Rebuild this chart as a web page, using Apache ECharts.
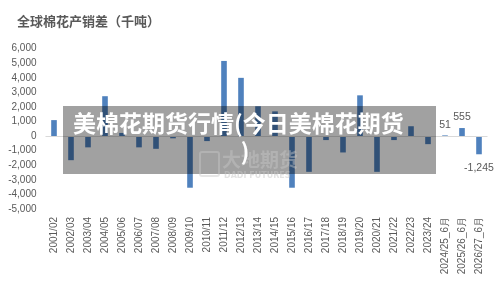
<!DOCTYPE html>
<html>
<head>
<meta charset="utf-8">
<script src="https://cdn.jsdelivr.net/npm/echarts@6/dist/echarts.min.js"></script>
<style>html,body{margin:0;padding:0;background:#fff}#c{width:500px;height:282px}</style>
</head>
<body>
<div id="c"></div>
<script>
var titleText = '全球棉花产销差（千吨）';
var categories = ['2001/02','2002/03','2003/04','2004/05','2005/06','2006/07','2007/08','2008/09','2009/10','2010/11','2011/12','2012/13','2013/14','2014/15','2015/16','2016/17','2017/18','2018/19','2019/20','2020/21','2021/22','2022/23','2023/24','2024/25_6月','2025/26_6月','2026/27_6月'];
var values = [1100,-1650,-770,2740,220,-770,-870,-150,-3540,-340,5160,4000,2050,1700,-3540,-2450,-270,-1120,2800,-2450,-270,680,-550,51,555,-1245];
var labelledCats = ['2024/25_6月','2025/26_6月','2026/27_6月'];
var yTicks = {min:-5000, max:6000, interval:1000};
var overlayLine1 = '美棉花期货行情(今日美棉花期货';
var overlayLine2 = ')';
var watermarkCn = '大地期货';
var watermarkEn = 'DADI FUTURES';

function fmt(v){ return v.toLocaleString('en-US'); }

var seriesData = values.map(function(v,i){
  var d = {value:v};
  if (labelledCats.indexOf(categories[i]) >= 0) {
    d.label = {show:true, position: v >= 0 ? 'top' : 'bottom', distance: v>=0?5:8,
      formatter: function(p){return fmt(p.value);}, color:'#595959', fontSize:10.5, fontFamily:'Liberation Sans'};
  }
  return d;
});

var chart = echarts.init(document.getElementById('c'), null, {renderer:'canvas'});
chart.setOption({
  animation:false,
  backgroundColor:'#ffffff',
  title:{text:titleText, left:12, top:10, textStyle:{fontSize:13, fontWeight:'bold', color:'#595959', fontFamily:'Noto Sans CJK SC'}},
  grid:{left:45.5, right:12.5, top:48.7, bottom:73},
  xAxis:{type:'category', data:categories,
    axisLine:{show:false, onZero:false}, axisTick:{show:false},
    axisLabel:{rotate:90, interval:0, margin:8, color:'#595959', fontSize:10, fontFamily:'Liberation Sans'}},
  yAxis:{type:'value', min:yTicks.min, max:yTicks.max, interval:yTicks.interval,
    axisLine:{show:false}, axisTick:{show:false}, splitLine:{show:false},
    axisLabel:{formatter:function(v){return fmt(v);}, color:'#595959', fontSize:10, fontFamily:'Liberation Sans', margin:9}},
  series:[{type:'bar', data:seriesData, barWidth:'33%', itemStyle:{color:'#4f81bd'},
    markLine:{silent:true, symbol:'none', label:{show:false}, lineStyle:{color:'#d9d9d9', width:1, type:'solid'}, data:[{yAxis:0}]}}],
  graphic:[
    {type:'rect', shape:{x:63, y:106, width:373, height:68}, style:{fill:'rgba(0,0,0,0.37)'}, z:100},
    {type:'text', x:222, y:160, style:{text:watermarkCn, fill:'rgba(200,200,200,0.45)', font:'bold 19px "Noto Sans CJK SC"', textAlign:'left', textVerticalAlign:'middle'}, z:101},
    {type:'text', x:224, y:176, style:{text:watermarkEn, fill:'rgba(200,200,200,0.5)', font:'bold 8px "DejaVu Sans"', textAlign:'left', textVerticalAlign:'middle'}, z:101},
    {type:'rect', shape:{x:200, y:152, width:19, height:24, r:2}, style:{fill:'none', stroke:'rgba(200,200,200,0.45)', lineWidth:2}, z:101},
    {type:'text', x:73, y:123, style:{text:overlayLine1, fill:'#ffffff', font:'bold 23px "Noto Sans CJK SC"', textAlign:'left', textVerticalAlign:'middle'}, z:102},
    {type:'text', x:245, y:151, style:{text:overlayLine2, fill:'#ffffff', font:'bold 23px "Noto Sans CJK SC"', textAlign:'center', textVerticalAlign:'middle'}, z:102}
  ]
});
</script>
</body>
</html>
